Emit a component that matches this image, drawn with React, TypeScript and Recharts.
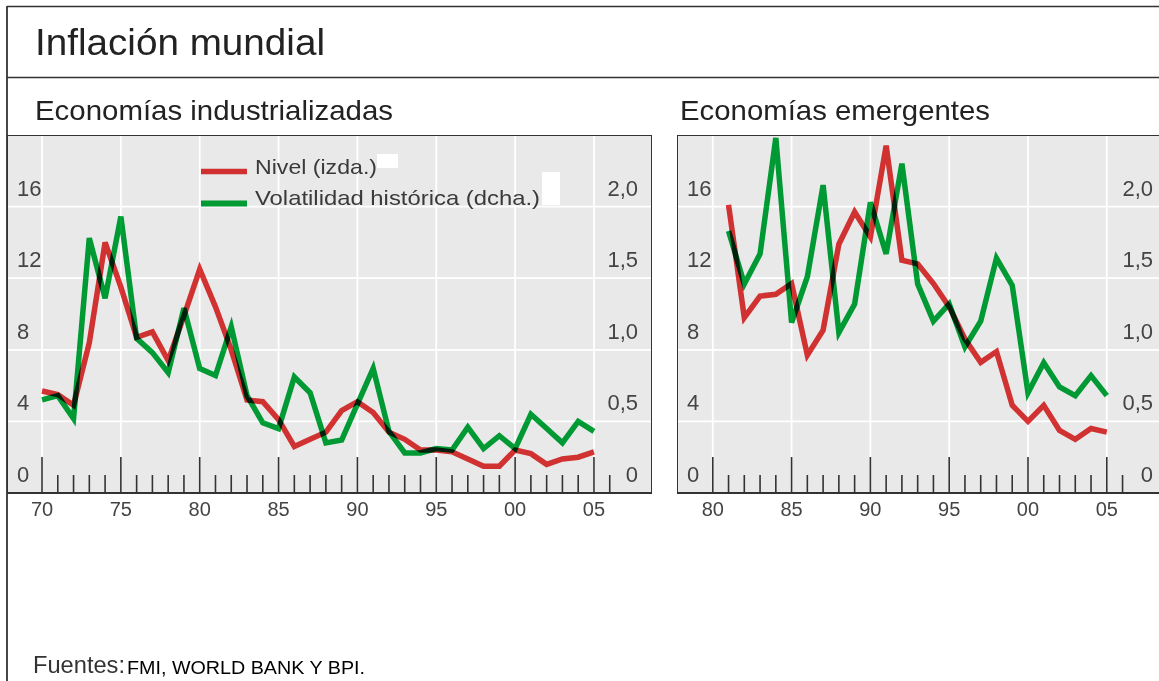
import React from 'react';
import { LineChart, Line, XAxis, YAxis, CartesianGrid, ReferenceArea, Legend } from 'recharts';

// Economías industrializadas, 1970-2005
const indYears = [
  1970, 1971, 1972, 1973, 1974, 1975, 1976, 1977, 1978, 1979,
  1980, 1981, 1982, 1983, 1984, 1985, 1986, 1987, 1988, 1989,
  1990, 1991, 1992, 1993, 1994, 1995, 1996, 1997, 1998, 1999,
  2000, 2001, 2002, 2003, 2004, 2005,
];
const indNivel = [
  5.7, 5.5, 4.9, 8.4, 14.0, 11.5, 8.7, 9.0, 7.4, 9.9,
  12.5, 10.4, 8.0, 5.2, 5.1, 4.1, 2.6, 3.0, 3.4, 4.6,
  5.1, 4.5, 3.4, 3.0, 2.4, 2.4, 2.3, 1.9, 1.5, 1.5,
  2.4, 2.2, 1.6, 1.9, 2.0, 2.3,
];
const indVolatilidad = [
  0.65, 0.68, 0.52, 1.78, 1.36, 1.93, 1.08, 0.98, 0.84, 1.29,
  0.87, 0.82, 1.16, 0.68, 0.49, 0.45, 0.81, 0.7, 0.35, 0.37,
  0.62, 0.87, 0.43, 0.28, 0.28, 0.31, 0.3, 0.46, 0.31, 0.4,
  0.31, 0.55, 0.45, 0.35, 0.5, 0.43,
];

// Economías emergentes, 1981-2005
const emYears = [
  1981, 1982, 1983, 1984, 1985, 1986, 1987, 1988, 1989, 1990,
  1991, 1992, 1993, 1994, 1995, 1996, 1997, 1998, 1999, 2000,
  2001, 2002, 2003, 2004, 2005,
];
const emNivel = [
  16.1, 9.8, 11.0, 11.1, 11.7, 7.7, 9.1, 13.9, 15.7, 14.3,
  19.4, 13.0, 12.8, 11.7, 10.4, 8.6, 7.3, 7.9, 4.9, 4.0,
  4.9, 3.5, 3.0, 3.6, 3.4,
];
const emVolatilidad = [
  1.83, 1.46, 1.67, 2.48, 1.19, 1.51, 2.15, 1.12, 1.32, 2.03,
  1.67, 2.3, 1.46, 1.2, 1.32, 1.02, 1.2, 1.64, 1.45, 0.7,
  0.91, 0.74, 0.68, 0.82, 0.68,
];

// axis ticks
const leftTicks = [0, 4, 8, 12, 16];
const rightTicks = [0, 0.5, 1, 1.5, 2];
const majorYears = [1970, 1975, 1980, 1985, 1990, 1995, 2000, 2005];
const indTickYears = Array.from({ length: 37 }, (_, i) => 1970 + i);
const emTickYears = Array.from({ length: 27 }, (_, i) => 1980 + i);

const RED = '#e43535';
const GREEN = '#00a838';
const RED_KEY = '#d0302f';
const GREEN_KEY = '#009a33';
const FONT = "'Liberation Sans', Arial, sans-serif";

const PLOT_H = 358;
const CHART_H = 388;

const XTick = (props: any) => {
  const { x, payload } = props;
  const v = payload.value as number;
  const major = v % 5 === 0;
  return (
    <g>
      <line x1={x} x2={x} y1={PLOT_H} y2={PLOT_H - (major ? 36 : 18)} stroke="#333" strokeWidth={1.6} />
      {major && (
        <text x={x} y={PLOT_H + 23} textAnchor="middle" fontSize={20} fill="#444" fontFamily={FONT}>
          {String(v % 100).padStart(2, '0')}
        </text>
      )}
    </g>
  );
};

const LeftTick = (props: any) => (
  <text x={10} y={props.y - 11} fontSize={22} fill="#444" fontFamily={FONT}>
    {props.payload.value}
  </text>
);

const makeRightTick = (w: number) => (props: any) => {
  const v = props.payload.value as number;
  return (
    <text x={w - 14} y={props.y - 11} textAnchor="end" fontSize={22} fill="#444" fontFamily={FONT}>
      {v === 0 ? '0' : v.toFixed(1).replace('.', ',')}
    </text>
  );
};

const LegendBox = () => (
  <svg width={645} height={80} style={{ display: 'block' }}>
    <line x1={194} x2={240} y1={36.5} y2={36.5} stroke={RED_KEY} strokeWidth={5.5} />
    <line x1={194} x2={240} y1={68.5} y2={68.5} stroke={GREEN_KEY} strokeWidth={6} />
    <text x={248} y={39} fontSize={21} fill="#3a3a3a" fontFamily={FONT} textLength={122} lengthAdjust="spacingAndGlyphs">
      Nivel (izda.)
    </text>
    <text x={248} y={70} fontSize={21} fill="#3a3a3a" fontFamily={FONT} textLength={285} lengthAdjust="spacingAndGlyphs">
      Volatilidad histórica (dcha.)
    </text>
    <rect x={370} y={19} width={21} height={14} fill="#fff" />
    <rect x={535} y={37} width={18} height={33} fill="#fff" />
  </svg>
);

interface PanelProps {
  years: number[];
  nivel: number[];
  volatilidad: number[];
  tickYears: number[];
  domain: [number, number];
  width: number;
  legend?: boolean;
}

const Panel: React.FC<PanelProps> = ({ years, nivel, volatilidad, tickYears, domain, width, legend }) => {
  const data = years.map((year, i) => ({ year, nivel: nivel[i], volatilidad: volatilidad[i] }));
  const RightTick = makeRightTick(width);
  return (
    <LineChart width={width} height={CHART_H} data={data} margin={{ top: 0, right: 0, bottom: 0, left: 0 }}>
      <CartesianGrid
        yAxisId="l"
        fill="#e9e9e9"
        stroke="#fff"
        strokeWidth={1.8}
        horizontalValues={[4, 8, 12, 16]}
        verticalValues={majorYears}
      />
      <XAxis
        dataKey="year"
        type="number"
        domain={domain}
        allowDataOverflow
        ticks={tickYears}
        interval={0}
        height={30}
        tickLine={false}
        axisLine={{ stroke: '#333', strokeWidth: 2 }}
        tick={<XTick />}
      />
      <YAxis
        yAxisId="l"
        domain={[0, 20]}
        allowDataOverflow
        ticks={leftTicks}
        interval={0}
        mirror
        axisLine={false}
        tickLine={false}
        tick={<LeftTick />}
      />
      <YAxis
        yAxisId="r"
        orientation="right"
        domain={[0, 2.5]}
        allowDataOverflow
        ticks={rightTicks}
        interval={0}
        mirror
        axisLine={false}
        tickLine={false}
        tick={<RightTick />}
      />
      {legend && (
        <Legend
          layout="horizontal"
          verticalAlign="middle"
          align="center"
          content={<LegendBox />}
          wrapperStyle={{ position: 'absolute', left: 0, top: 0, width: 645, height: 80, margin: 0 }}
        />
      )}
      <Line
        yAxisId="l"
        type="linear"
        dataKey="nivel"
        stroke={RED}
        strokeWidth={5.5}
        dot={false}
        isAnimationActive={false}
      />
      <Line
        yAxisId="r"
        type="linear"
        dataKey="volatilidad"
        stroke={GREEN}
        strokeWidth={5.5}
        dot={false}
        isAnimationActive={false}
      />
      <ReferenceArea
        yAxisId="l"
        x1={domain[0]}
        x2={domain[1]}
        y1={0}
        y2={20}
        fill="none"
        stroke="#333"
        strokeWidth={2}
        ifOverflow="visible"
      />
    </LineChart>
  );
};

export default function App() {
  return (
    <div style={{ position: 'relative', width: 1159, height: 681, overflow: 'hidden', background: '#fff' }}>
      <style>{'html,body{margin:0;overflow:hidden}.recharts-line-curve{mix-blend-mode:multiply}'}</style>
      <svg width={1159} height={681} style={{ position: 'absolute', left: 0, top: 0 }}>
        <line x1={7} x2={1159} y1={6.5} y2={6.5} stroke="#333" strokeWidth={1.6} />
        <line x1={7} x2={1159} y1={77.5} y2={77.5} stroke="#333" strokeWidth={1.6} />
        <line x1={7} x2={7} y1={6} y2={681} stroke="#333" strokeWidth={1.8} />
        <text x={35} y={55} fontSize={37} fill="#222" fontFamily={FONT} textLength={290} lengthAdjust="spacingAndGlyphs">
          Inflación mundial
        </text>
        <text x={35} y={120} fontSize={28} fill="#222" fontFamily={FONT} textLength={358} lengthAdjust="spacingAndGlyphs">
          Economías industrializadas
        </text>
        <text x={680} y={120} fontSize={28} fill="#222" fontFamily={FONT} textLength={310} lengthAdjust="spacingAndGlyphs">
          Economías emergentes
        </text>
        <text x={33} y={673} fontSize={23} fill="#333" fontFamily={FONT} textLength={92} lengthAdjust="spacingAndGlyphs">
          Fuentes:
        </text>
        <text x={127} y={674} fontSize={18} fill="#000" fontFamily={FONT} textLength={238} lengthAdjust="spacingAndGlyphs">
          FMI, WORLD BANK Y BPI.
        </text>
      </svg>
      <div style={{ position: 'absolute', left: 7, top: 135 }}>
        <Panel
          years={indYears}
          nivel={indNivel}
          volatilidad={indVolatilidad}
          tickYears={indTickYears}
          domain={[1967.78, 2008.68]}
          width={645}
          legend
        />
      </div>
      <div style={{ position: 'absolute', left: 677, top: 135 }}>
        <Panel
          years={emYears}
          nivel={emNivel}
          volatilidad={emVolatilidad}
          tickYears={emTickYears}
          domain={[1977.73, 2008.82]}
          width={490}
        />
      </div>
    </div>
  );
}
